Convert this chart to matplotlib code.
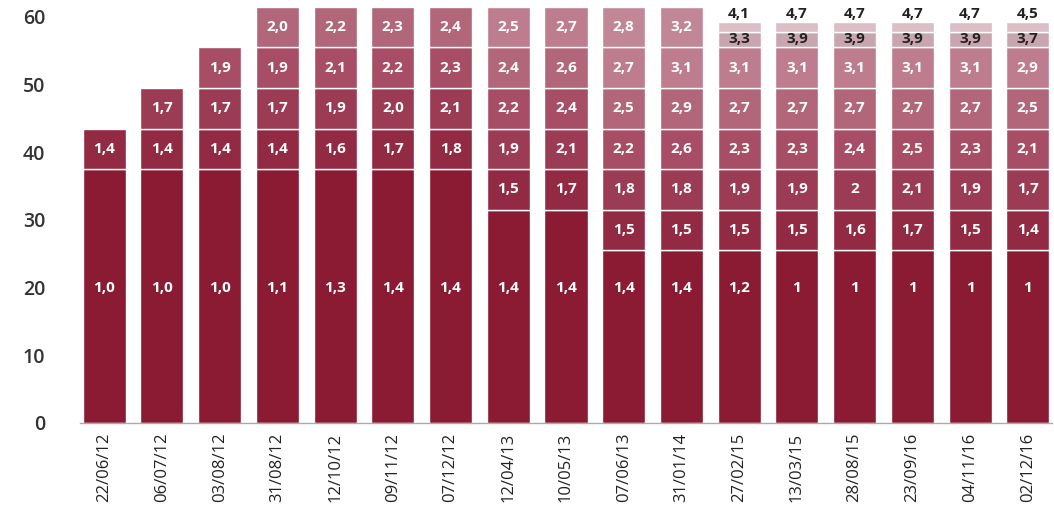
import matplotlib
matplotlib.use('Agg')
import matplotlib.pyplot as plt

dates = ['22/06/12', '06/07/12', '03/08/12', '31/08/12', '12/10/12', '09/11/12',
         '07/12/12', '12/04/13', '10/05/13', '07/06/13', '31/01/14', '27/02/15',
         '13/03/15', '28/08/15', '23/09/16', '04/11/16', '02/12/16']

# segment heights, bottom to top
heights = [
    [37.5, 6],
    [37.5, 6, 6],
    [37.5, 6, 6, 6],
    [37.5, 6, 6, 6, 6],
    [37.5, 6, 6, 6, 6],
    [37.5, 6, 6, 6, 6],
    [37.5, 6, 6, 6, 6],
    [31.5, 6, 6, 6, 6, 6],
    [31.5, 6, 6, 6, 6, 6],
    [25.5, 6, 6, 6, 6, 6, 6],
    [25.5, 6, 6, 6, 6, 6, 6],
    [25.5, 6, 6, 6, 6, 6, 2.3, 1.4],
    [25.5, 6, 6, 6, 6, 6, 2.3, 1.4],
    [25.5, 6, 6, 6, 6, 6, 2.3, 1.4],
    [25.5, 6, 6, 6, 6, 6, 2.3, 1.4],
    [25.5, 6, 6, 6, 6, 6, 2.3, 1.4],
    [25.5, 6, 6, 6, 6, 6, 2.3, 1.4],
]

labels = [
    ['1,0', '1,4'],
    ['1,0', '1,4', '1,7'],
    ['1,0', '1,4', '1,7', '1,9'],
    ['1,1', '1,4', '1,7', '1,9', '2,0'],
    ['1,3', '1,6', '1,9', '2,1', '2,2'],
    ['1,4', '1,7', '2,0', '2,2', '2,3'],
    ['1,4', '1,8', '2,1', '2,3', '2,4'],
    ['1,4', '1,5', '1,9', '2,2', '2,4', '2,5'],
    ['1,4', '1,7', '2,1', '2,4', '2,6', '2,7'],
    ['1,4', '1,5', '1,8', '2,2', '2,5', '2,7', '2,8'],
    ['1,4', '1,5', '1,8', '2,6', '2,9', '3,1', '3,2'],
    ['1,2', '1,5', '1,9', '2,3', '2,7', '3,1', '3,3', '4,1'],
    ['1', '1,5', '1,9', '2,3', '2,7', '3,1', '3,9', '4,7'],
    ['1', '1,6', '2', '2,4', '2,7', '3,1', '3,9', '4,7'],
    ['1', '1,7', '2,1', '2,5', '2,7', '3,1', '3,9', '4,7'],
    ['1', '1,5', '1,9', '2,3', '2,7', '3,1', '3,9', '4,7'],
    ['1', '1,4', '1,7', '2,1', '2,5', '2,9', '3,7', '4,5'],
]

layer_colors = ['#8A1B32', '#932A43', '#9C3B54', '#A74E66', '#B26679',
                '#BE7D8E', '#C28797']
band_colors = ['#C9A5AF', '#DCBEC7']
BOTTOM_LABEL_Y = 20

plt.rcParams['font.family'] = ['Open Sans', 'DejaVu Sans']

fig = plt.figure(figsize=(10.54, 5.13), dpi=100)
ax = fig.add_axes([80 / 1054, 90 / 513, 972 / 1054, 62 * 6.77 / 513])

for i, (hs, labs) in enumerate(zip(heights, labels)):
    bottom = 0
    thin = len(hs) == 8
    for k, (h, lab) in enumerate(zip(hs, labs)):
        if thin and k >= 6:
            color = band_colors[k - 6]
            tcol = '#222222'
        else:
            color = layer_colors[k]
            tcol = 'white'
        ax.bar(i, h, bottom=bottom, width=0.745, color=color,
               edgecolor='white', linewidth=1.0)
        if k == 0:
            y = BOTTOM_LABEL_Y
        elif thin and k == 7:
            y = bottom + h + 1.2
        else:
            y = bottom + h / 2
        ax.text(i, y, lab, ha='center', va='center', color=tcol,
                fontsize=11, fontweight='bold')
        bottom += h

ax.set_xlim(-0.42, 16.42)
ax.set_ylim(0, 62)
ax.set_yticks(range(0, 61, 10))
ax.set_xticks(range(len(dates)))
ax.set_xticklabels(dates, rotation=90, fontsize=12, color='#222222')
ax.tick_params(axis='y', length=0, pad=25, labelsize=14, labelcolor='#333333')
ax.tick_params(axis='x', length=0, pad=7)
for lab in ax.get_yticklabels():
    lab.set_fontweight('semibold')

for side in ['top', 'right', 'left']:
    ax.spines[side].set_visible(False)
ax.spines['bottom'].set_color('#aaaaaa')
ax.spines['bottom'].set_linewidth(1.0)

fig.savefig('out.png', dpi=100)
